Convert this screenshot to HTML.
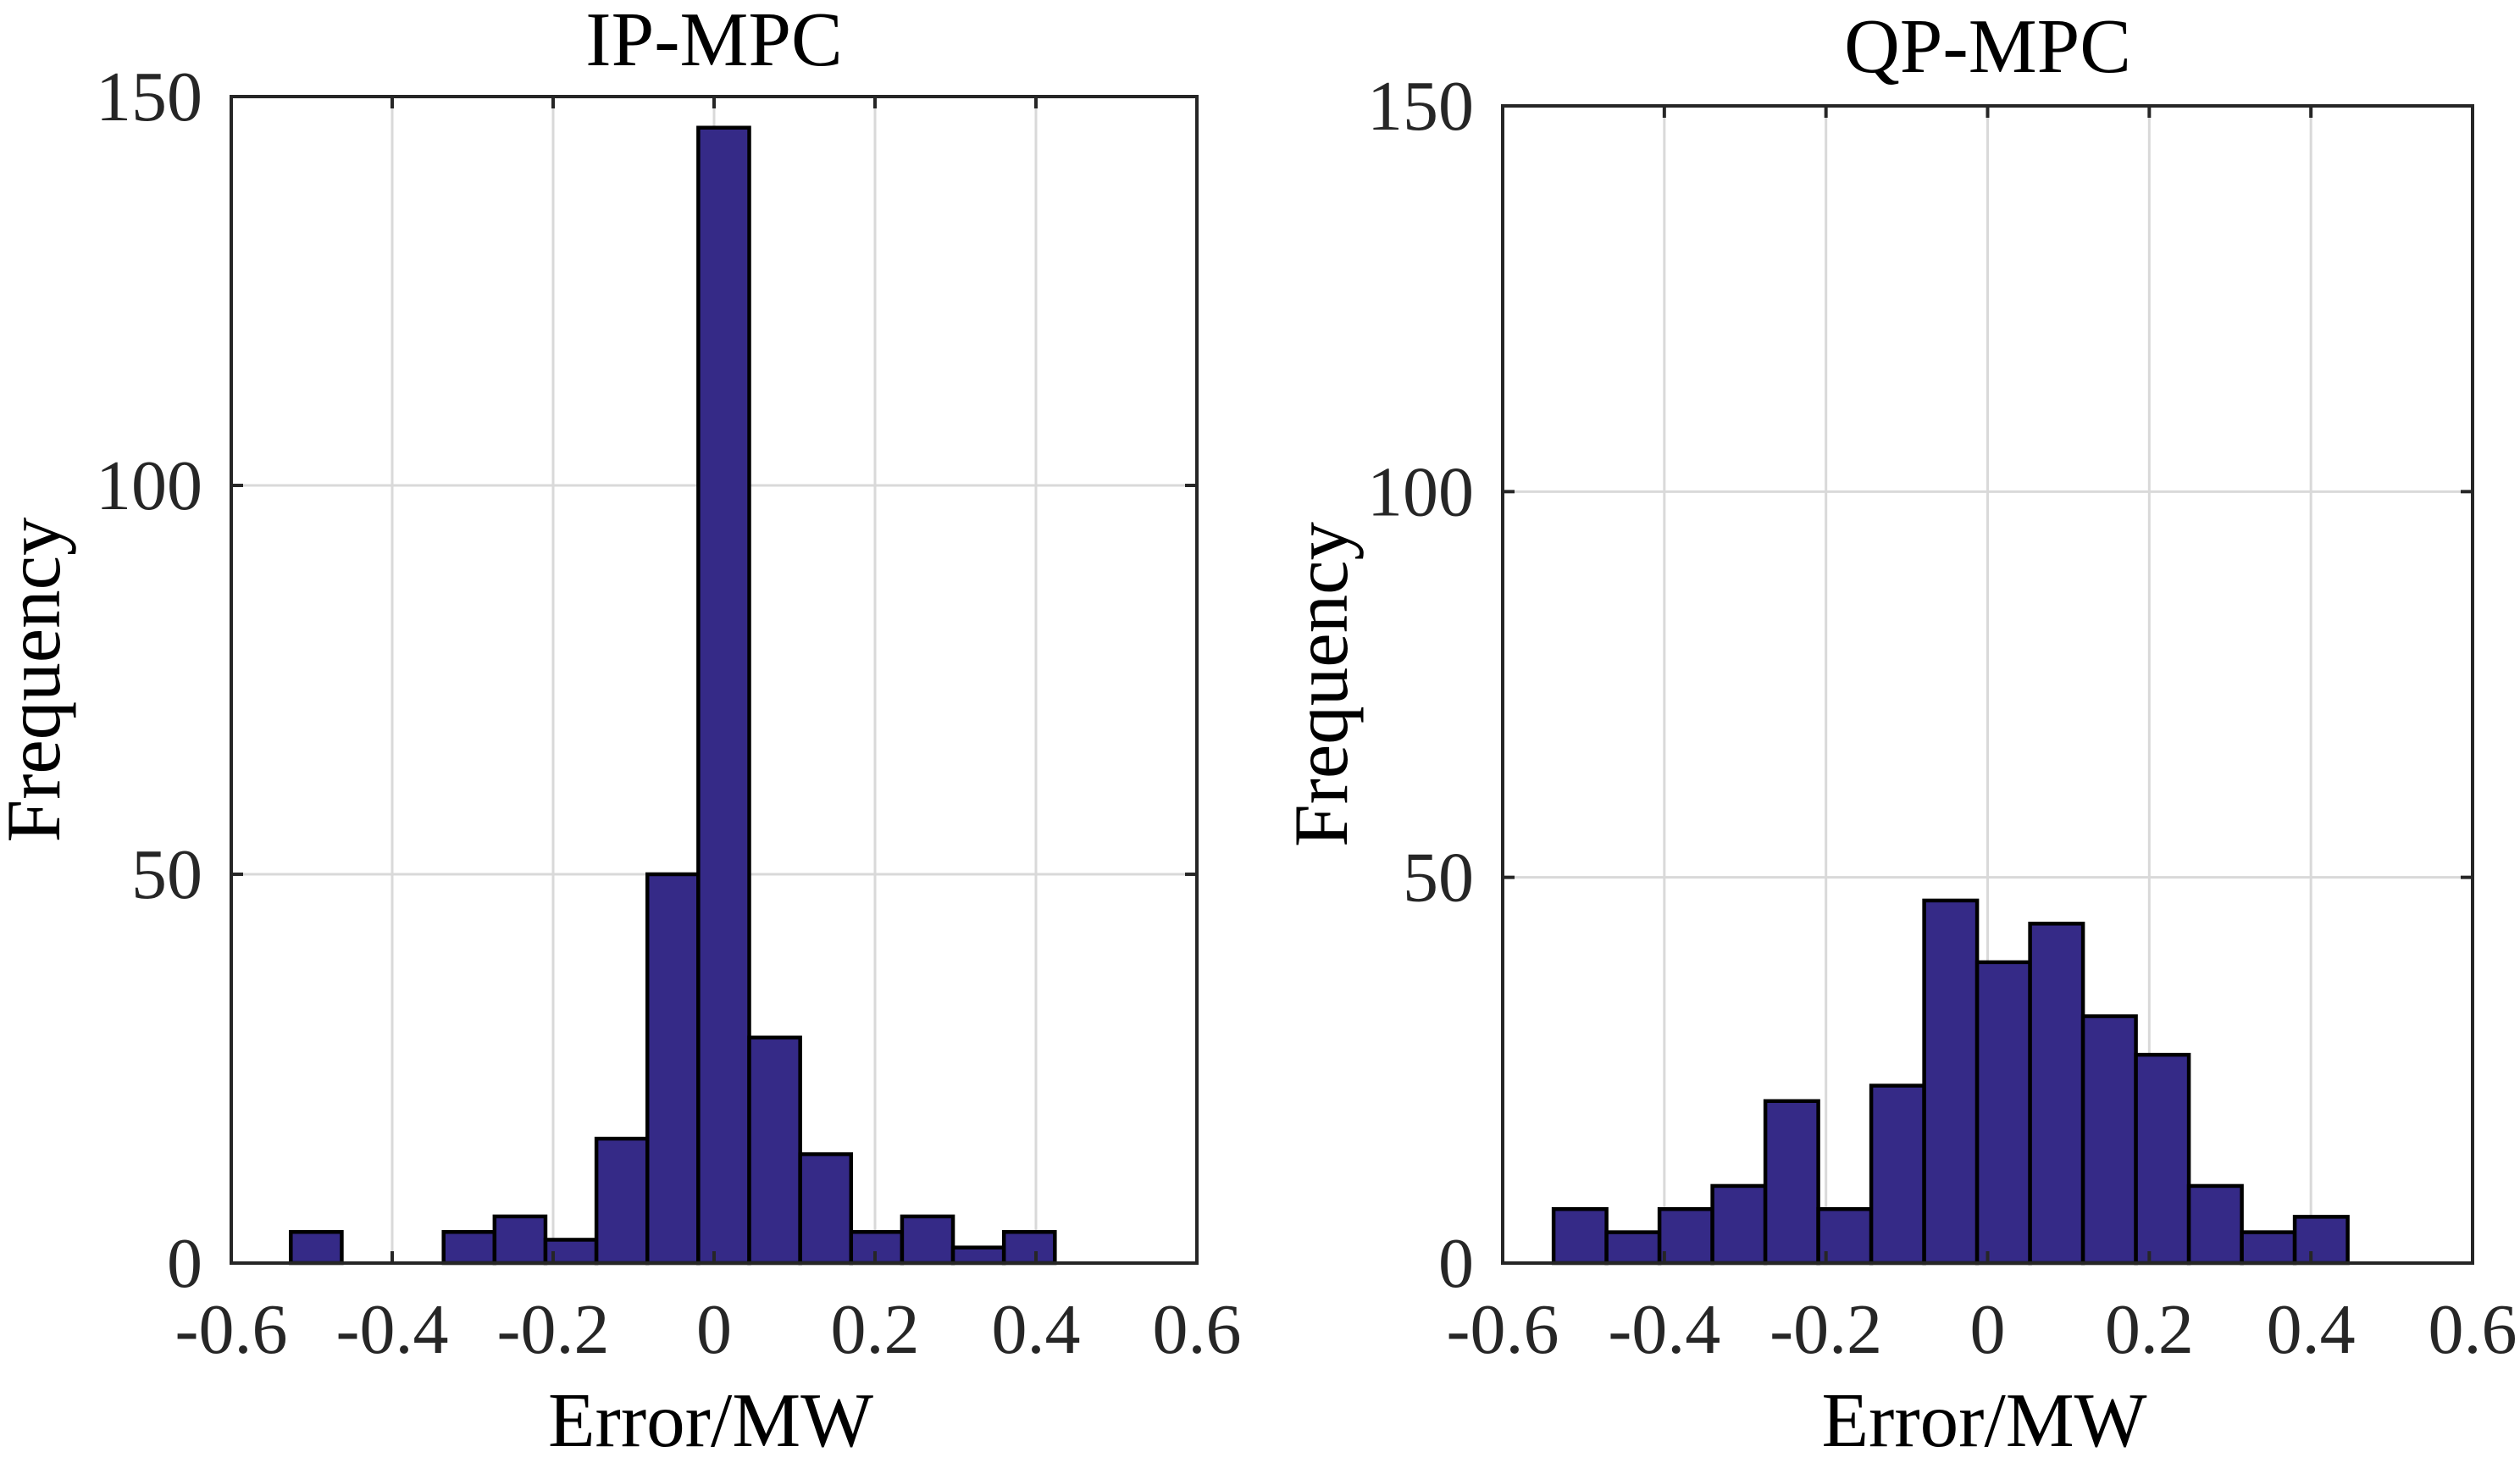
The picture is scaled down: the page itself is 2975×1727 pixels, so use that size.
<!DOCTYPE html>
<html><head><meta charset="utf-8"><style>
html,body{margin:0;padding:0;background:#fff;}
svg{display:block;}
text{font-family:"Liberation Serif",serif;fill:#262626;}
</style></head><body>
<svg id="chart" width="2975" height="1727" viewBox="0 0 2975 1727" xmlns="http://www.w3.org/2000/svg"></svg>
<script>
const ipCounts = [4, 0, 0, 4, 6, 3, 16, 50, 146, 29, 14, 4, 6, 2, 4];
const ipBinStart = -0.526;
const ipBinWidth = 0.0633;
const qpCounts = [7, 4, 7, 10, 21, 7, 23, 47, 39, 44, 32, 27, 10, 4, 6];
const qpBinStart = -0.537;
const qpBinWidth = 0.0655;
const xTicks = [-0.6, -0.4, -0.2, 0, 0.2, 0.4, 0.6];
const xTickLabels = ["-0.6", "-0.4", "-0.2", "0", "0.2", "0.4", "0.6"];
const yTicks = [0, 50, 100, 150];
const yTickLabels = ["0", "50", "100", "150"];

const NS = "http://www.w3.org/2000/svg";
const svg = document.getElementById("chart");
function mk(tag, attrs, parent) {
  const e = document.createElementNS(NS, tag);
  for (const k in attrs) e.setAttribute(k, attrs[k]);
  (parent || svg).appendChild(e);
  return e;
}

function panel(cfg) {
  const g = mk("g", {});
  
  
  const L = cfg.left, R = cfg.right, T = cfg.top, B = cfg.bottom;
  const xs = v => L + (v + 0.6) / 1.2 * (R - L);
  const ys = v => B - v / 150 * (B - T);
  xTicks.forEach(t => {
    if (t === -0.6 || t === 0.6) return;
    const l = mk("line", {x1: xs(t), x2: xs(t), y1: T, y2: B, stroke: "#d9d9d9", "stroke-width": 3}, g);
    
    
  });
  yTicks.forEach(t => {
    if (t === 0 || t === 150) return;
    const l = mk("line", {x1: L, x2: R, y1: ys(t), y2: ys(t), stroke: "#d9d9d9", "stroke-width": 3}, g);
    
    
  });
  cfg.counts.forEach((c, i) => {
    if (c <= 0) return;
    const x0 = xs(cfg.start + i * cfg.width), x1 = xs(cfg.start + (i + 1) * cfg.width);
    const r = mk("rect", {x: x0, y: ys(c), width: x1 - x0, height: ys(0) - ys(c), fill: "#352a87", stroke: "#000", "stroke-width": 4.5}, g);
    
    
  });
  const box = mk("rect", {x: L, y: T, width: R - L, height: B - T, fill: "none", stroke: "#262626", "stroke-width": 4}, g);
  
  
  xTicks.forEach((t, i) => {
    mk("line", {x1: xs(t), x2: xs(t), y1: B, y2: B - 14, stroke: "#262626", "stroke-width": 4}, g);
    mk("line", {x1: xs(t), x2: xs(t), y1: T, y2: T + 14, stroke: "#262626", "stroke-width": 4}, g);
    const tx = mk("text", {x: xs(t), y: 1597, "font-size": 84, "text-anchor": "middle"}, g);
    tx.textContent = xTickLabels[i];
    
    
  });
  yTicks.forEach((t, i) => {
    mk("line", {x1: L, x2: L + 14, y1: ys(t), y2: ys(t), stroke: "#262626", "stroke-width": 4}, g);
    mk("line", {x1: R, x2: R - 14, y1: ys(t), y2: ys(t), stroke: "#262626", "stroke-width": 4}, g);
    const tx = mk("text", {x: L - 34, y: ys(t) + 28, "font-size": 84, "text-anchor": "end"}, g);
    tx.textContent = yTickLabels[i];
    
    
  });
  const title = mk("text", {x: (L + R) / 2, y: cfg.titleY, "font-size": 91, "text-anchor": "middle", style: "fill:#000"}, g);
  title.textContent = cfg.title;
  
  
  const xl = mk("text", {x: (L + R) / 2 - 4, y: 1707, "font-size": 91, "text-anchor": "middle", style: "fill:#000"}, g);
  xl.textContent = "Error/MW";
  
  
  const yl = mk("text", {x: 0, y: 0, "font-size": 91, "text-anchor": "middle", style: "fill:#000",
    transform: "translate(" + cfg.ylabX + "," + ((T + B) / 2) + ") rotate(-90)"}, g);
  yl.textContent = "Frequency";
  
  
}

panel({name: "ip-mpc-panel", title: "IP-MPC", counts: ipCounts, start: ipBinStart, width: ipBinWidth,
  left: 273, right: 1413, top: 114, bottom: 1491, titleY: 77, ylabX: 70});
panel({name: "qp-mpc-panel", title: "QP-MPC", counts: qpCounts, start: qpBinStart, width: qpBinWidth,
  left: 1774, right: 2919, top: 125, bottom: 1491, titleY: 85, ylabX: 1590});
</script>
</body></html>
